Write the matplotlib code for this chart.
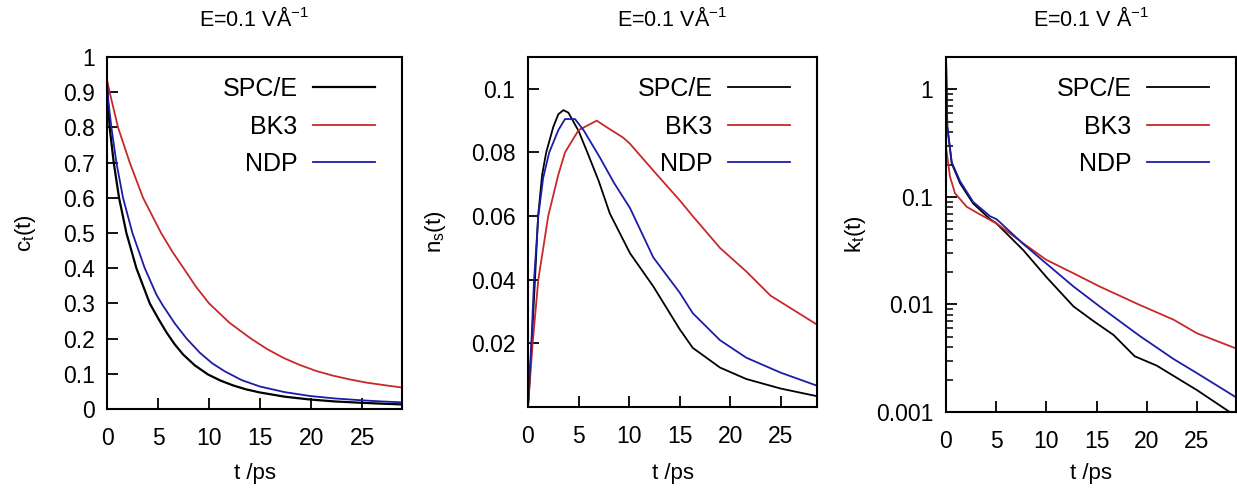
import matplotlib

matplotlib.use("Agg")
import matplotlib.pyplot as plt
from matplotlib.ticker import FixedLocator, FormatStrFormatter, LogLocator, NullFormatter

plt.rcParams.update(
    {
        "font.family": ["Liberation Sans", "DejaVu Sans"],
        "mathtext.fontset": "custom",
        "mathtext.rm": "Liberation Sans",
        "mathtext.it": "Liberation Sans:italic",
        "mathtext.default": "regular",
    }
)

models = ["SPC/E", "BK3", "NDP"]
modelColors = {"SPC/E": "black", "BK3": "#c8282a", "NDP": "#1c1ca6"}

# panel 1: c_t(t)
ctTime = {
    "SPC/E": [0, 0.1, 0.26, 0.66, 1.18, 1.9, 2.88, 4.19, 5.0, 5.82, 6.6, 7.45, 8.6, 9.9, 11.1,
              12.35, 13.6, 14.97, 17.4, 19.87, 22.3, 24.8, 26.9, 28.9],
    "BK3": [0, 0.26, 1.08, 2.23, 3.53, 5.3, 6.4, 7.5, 8.7, 10.0, 12.0, 14.1, 15.7, 17.3, 18.9,
            20.5, 22.1, 23.8, 25.4, 27.1, 28.9],
    "NDP": [0, 0.15, 0.43, 0.92, 1.57, 2.49, 3.7, 4.84, 5.45, 6.64, 7.8, 9.09, 10.3, 11.54,
            13.2, 14.97, 17.4, 19.87, 22.3, 24.8, 26.9, 28.9],
}
ctValues = {
    "SPC/E": [0.924, 0.87, 0.8, 0.7, 0.6, 0.5, 0.4, 0.3, 0.258, 0.218, 0.185, 0.155, 0.124,
              0.098, 0.081, 0.067, 0.056, 0.047, 0.035, 0.027, 0.0215, 0.0178, 0.0152, 0.013],
    "BK3": [0.935, 0.9, 0.8, 0.7, 0.6, 0.5, 0.447, 0.4, 0.348, 0.3, 0.245, 0.2, 0.17, 0.145,
            0.125, 0.108, 0.095, 0.084, 0.075, 0.068, 0.061],
    "NDP": [0.924, 0.87, 0.8, 0.7, 0.6, 0.5, 0.4, 0.325, 0.295, 0.243, 0.2, 0.16, 0.13, 0.107,
            0.082, 0.064, 0.048, 0.037, 0.030, 0.025, 0.0215, 0.019],
}

# panel 2: n_s(t)
nsTime = {
    "SPC/E": [0, 0.37, 0.69, 1.0, 1.4, 1.8, 2.5, 3.0, 3.5, 4.0, 5.0, 5.8, 7.0, 8.1, 10.1,
              12.4, 15.0, 16.3, 19.0, 21.6, 25.0, 28.6],
    "BK3": [0, 0.46, 1.02, 2.0, 3.0, 3.66, 5.0, 6.8, 8.0, 9.4, 10.1, 12.4, 15.0, 16.3, 19.0,
            21.6, 24.0, 28.6],
    "NDP": [0, 0.33, 0.6, 1.02, 1.5, 2.1, 3.0, 3.66, 4.65, 5.5, 7.1, 8.5, 10.1, 12.4, 15.0,
            16.3, 19.0, 21.6, 25.0, 28.6],
}
nsValues = {
    "SPC/E": [0, 0.02, 0.04, 0.06, 0.073, 0.080, 0.088, 0.092, 0.0933, 0.0925, 0.0868, 0.0806,
              0.071, 0.0608, 0.0483, 0.0379, 0.0245, 0.0186, 0.0124, 0.0088, 0.0058, 0.0034],
    "BK3": [0, 0.02, 0.04, 0.06, 0.073, 0.080, 0.087, 0.090, 0.0875, 0.0847, 0.0827, 0.0743,
            0.065, 0.060, 0.050, 0.0426, 0.035, 0.0259],
    "NDP": [0, 0.02, 0.04, 0.06, 0.072, 0.080, 0.087, 0.0905, 0.0905, 0.087, 0.0785, 0.0705,
            0.0625, 0.047, 0.036, 0.0295, 0.021, 0.0155, 0.0108, 0.0067],
}

# panel 3: k_t(t), log scale
ktTime = {
    "SPC/E": [0, 0.13, 0.57, 1.4, 2.7, 4.4, 5.0, 7.7, 10.0, 12.7, 14.7, 16.7, 18.8, 21.0,
              25.0, 28.0, 28.9],
    "BK3": [0, 0.4, 0.9, 2.06, 3.0, 4.4, 5.0, 7.7, 10.0, 12.7, 15.3, 19.3, 22.7, 25.0, 28.9],
    "NDP": [0, 0.13, 0.57, 1.4, 2.7, 4.4, 5.05, 7.7, 10.0, 12.7, 15.3, 19.3, 22.7, 25.0, 28.9],
}
ktValues = {
    "SPC/E": [2.0, 0.45, 0.205, 0.134, 0.087, 0.062, 0.057, 0.032, 0.018, 0.0096, 0.0070,
              0.0052, 0.0033, 0.0027, 0.0016, 0.00104, 0.00092],
    "BK3": [0.29, 0.154, 0.108, 0.081, 0.072, 0.061, 0.057, 0.037, 0.026, 0.0195, 0.0147,
            0.0099, 0.0072, 0.0054, 0.0039],
    "NDP": [2.0, 0.45, 0.21, 0.14, 0.09, 0.066, 0.062, 0.0365, 0.024, 0.0147, 0.0096, 0.0051,
            0.0031, 0.0023, 0.00137],
}

titles = ["E=0.1 VÅ$^{-1}$", "E=0.1 VÅ$^{-1}$", "E=0.1 V Å$^{-1}$"]
yLabels = ["c$_t$(t)", "n$_s$(t)", "k$_t$(t)"]
xTicks = [0, 5, 10, 15, 20, 25]

figW, figH = 1237, 492
# axes boxes in pixels: left, top, right, bottom
boxes = [(107, 57, 402, 409), (528, 57, 817, 407), (946, 57, 1236, 412)]
yLabelX = [25, 435, 855]

fig = plt.figure(figsize=(figW / 100, figH / 100), dpi=100)
axes = []
for left, top, right, bottom in boxes:
    ax = fig.add_axes(
        [left / figW, 1 - bottom / figH, (right - left) / figW, (bottom - top) / figH]
    )
    axes.append(ax)

ax1, ax2, ax3 = axes
for name in models:
    ax1.plot(ctTime[name], ctValues[name], color=modelColors[name],
             lw=1.6 if name == "SPC/E" else 1.3, label=name)
    ax2.plot(nsTime[name], nsValues[name], color=modelColors[name], lw=1.3, label=name)
    ax3.plot(ktTime[name], ktValues[name], color=modelColors[name], lw=1.3, label=name)

ax1.set_xlim(0, 28.9)
ax1.set_ylim(0, 1)
ax1.yaxis.set_major_locator(FixedLocator([i / 10 for i in range(11)]))
ax1.yaxis.set_major_formatter(FormatStrFormatter("%g"))

ax2.set_xlim(0, 28.6)
ax2.set_ylim(0, 0.11)
ax2.yaxis.set_major_locator(FixedLocator([0.02, 0.04, 0.06, 0.08, 0.1]))
ax2.yaxis.set_major_formatter(FormatStrFormatter("%g"))

ax3.set_xlim(0, 28.9)
ax3.set_yscale("log")
ax3.set_ylim(0.001, 2)
ax3.yaxis.set_major_locator(FixedLocator([0.001, 0.01, 0.1, 1]))
ax3.yaxis.set_major_formatter(FormatStrFormatter("%g"))
ax3.yaxis.set_minor_locator(LogLocator(base=10, subs=range(2, 10)))
ax3.yaxis.set_minor_formatter(NullFormatter())

for i, ax in enumerate(axes):
    left, top, right, bottom = boxes[i]
    w, h = right - left, bottom - top
    ax.set_xticks(xTicks)
    for spine in ax.spines.values():
        spine.set_linewidth(1.5)
    ax.tick_params(which="major", direction="in", length=8, width=1.3, labelsize=16.5,
                   top=False, right=False)
    ax.tick_params(axis="x", pad=13)
    ax.tick_params(axis="y", pad=9)
    ax.tick_params(which="minor", direction="in", length=5, width=1.1, top=False, right=False)
    ax.set_xlabel("t /ps", fontsize=16, va="center")
    ax.xaxis.set_label_coords(0.5, -(473 - bottom) / h)
    ax.set_ylabel(yLabels[i], fontsize=16, va="center")
    ax.yaxis.set_label_coords(-(left - yLabelX[i]) / w, 0.5)
    ax.text(0.5, 1 + (top - 19) / h, titles[i], fontsize=15.5, ha="center", va="center",
            transform=ax.transAxes)
    ax.legend(
        loc="upper right",
        bbox_to_anchor=(1 - 27 / w, 1 - 20 / h),
        frameon=False,
        markerfirst=False,
        fontsize=18,
        handlelength=2.5,
        handletextpad=0.6,
        labelspacing=0.54,
        borderpad=0,
        borderaxespad=0,
    )

fig.savefig("out.png", dpi=100)
